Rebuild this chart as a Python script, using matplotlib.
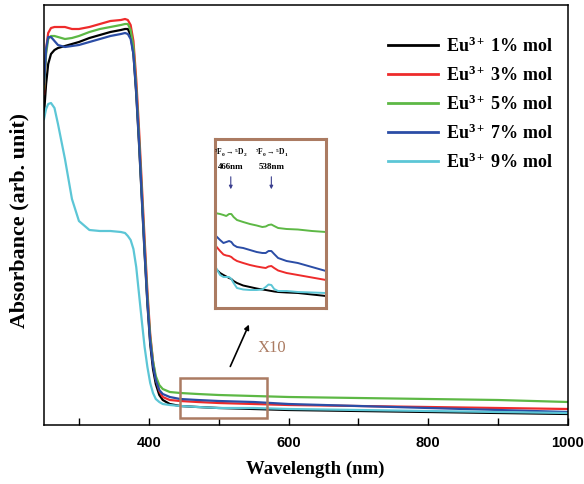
import matplotlib
matplotlib.use("Agg")
import matplotlib.pyplot as plt
from matplotlib.patches import Rectangle
from matplotlib.ticker import MultipleLocator

plt.rcParams['font.family'] = ['Liberation Serif', 'DejaVu Serif']
plt.rcParams['mathtext.fontset'] = 'custom'
plt.rcParams['mathtext.rm'] = 'Liberation Serif:bold'
plt.rcParams['mathtext.bf'] = 'Liberation Serif:bold'
plt.rcParams['mathtext.it'] = 'Liberation Serif:bold'

# ---------------- main spectra ----------------
wavelength = [250, 253, 256, 260, 265, 270, 280, 290, 300, 315, 330, 345, 360, 366, 370, 374,
              378, 382, 386, 390, 394, 398, 402, 406, 410, 415, 420, 430, 445, 470, 500, 550,
              600, 700, 800, 900, 1000]
abs_1 = [311, 341, 361, 371, 375, 377, 379, 381, 383, 387, 390, 393, 395, 396, 396, 390,
         371, 331, 281, 226, 171, 121, 81, 56, 41, 30, 25, 21, 19, 18, 17, 16, 15, 14, 13, 12, 11]
abs_3 = [331, 376, 392, 397, 398, 398, 398, 396, 396, 398, 401, 404, 405, 406, 405, 400,
         384, 346, 296, 241, 186, 134, 91, 64, 46, 34, 28, 25, 24, 23, 22, 21, 20, 19, 18, 17, 16]
abs_5 = [336, 371, 386, 389, 389, 388, 386, 387, 389, 393, 396, 398, 400, 401, 401, 395,
         378, 338, 288, 233, 178, 128, 88, 64, 49, 40, 36, 33, 32, 31, 30, 29, 28, 27, 26, 25, 23]
abs_7 = [341, 376, 388, 388, 384, 380, 378, 379, 380, 383, 386, 389, 391, 392, 391, 386,
         371, 334, 284, 229, 174, 124, 84, 60, 45, 35, 31, 28, 26, 25, 24, 23, 21, 19, 17, 15, 13]
abs_9 = [306, 316, 321, 322, 317, 301, 266, 226, 204, 195, 194, 194, 193, 192, 189, 185,
         176, 158, 131, 104, 78, 58, 42, 32, 26, 23, 21, 20, 19, 18, 17, 17, 16, 15, 14, 13, 12]

labels = [r'Eu$^{3+}$ 1% mol', r'Eu$^{3+}$ 3% mol', r'Eu$^{3+}$ 5% mol',
          r'Eu$^{3+}$ 7% mol', r'Eu$^{3+}$ 9% mol']
colors = ['#000000', '#ee2b2b', '#5db845', '#2b4da6', '#5cc6d6']

# ---------------- inset (x10) ----------------
inset_wl = [438, 447, 453, 458, 463, 467, 471, 477, 488, 500, 512, 522, 528, 533, 538, 543,
            550, 565, 585, 610, 635]
inset_1 = [40, 35, 33, 31.5, 30, 29, 27, 25, 22.5, 21, 19.5, 18.5, 18, 17.5, 17, 16.5, 16, 15.5, 15, 13.5, 12]
inset_3 = [63, 57, 53.5, 52.5, 52, 51, 49, 47, 45, 43, 41.5, 40.5, 40, 41.5, 42, 40, 37.5, 35, 33, 30.5, 28]
inset_5 = [95, 94, 93, 92, 94, 94, 91, 88, 86, 84, 82.5, 81, 81.5, 83, 83.5, 82, 80, 79, 78.5, 77, 76]
inset_7 = [73, 68, 65, 66, 67, 66, 63, 61, 60, 58, 56, 55, 55, 57, 57, 54, 50, 47, 45, 41, 37]
inset_9 = [42, 33, 31, 31, 31, 29, 25, 20, 18.5, 18, 18, 18.5, 21, 23.5, 23, 19, 17, 17, 16, 15.5, 15]
transitions = [r'$^7$F$_0$$\rightarrow$$^5$D$_2$', r'$^7$F$_0$$\rightarrow$$^5$D$_1$']
transition_wl = [466, 538]
transition_txt = ['466nm', '538nm']

box_color = '#ab7b62'

W, H = 584, 485
fig = plt.figure(figsize=(W / 100, H / 100), dpi=100)
ax = fig.add_axes([44 / W, (H - 426) / H, (568 - 44) / W, (426 - 6) / H])

for ys, c, lab in zip([abs_1, abs_3, abs_5, abs_7, abs_9], colors, labels):
    ax.plot(wavelength, ys, color=c, lw=1.6, label=lab)

ax.set_xlim(250, 1000)
ax.set_ylim(0, 420)
ax.xaxis.set_minor_locator(MultipleLocator(100))
ax.set_xticks([400, 600, 800, 1000])
ax.set_yticks([])
ax.tick_params(axis='x', which='both', direction='in', length=5, width=1.0, pad=7)
for lbl in ax.get_xticklabels():
    lbl.set_fontfamily('Liberation Sans')
    lbl.set_fontweight('bold')
    lbl.set_fontsize(10.5)
for s in ax.spines.values():
    s.set_linewidth(1.1)

ax.set_xlabel('Wavelength (nm)', fontsize=13.5, fontweight='bold')
ax.xaxis.set_label_coords(0.518, -0.083)
ax.set_ylabel('Absorbance (arb. unit)', fontsize=15.8, fontweight='bold')
ax.yaxis.set_label_coords(-0.027, 0.49)

leg = ax.legend(loc='upper left', bbox_to_anchor=(0.625, 0.965), frameon=False,
                handlelength=2.8, handletextpad=0.45, labelspacing=0.53,
                prop={'family': 'Liberation Serif', 'weight': 'bold', 'size': 13})
for line in leg.get_lines():
    line.set_linewidth(2.0)

# rectangle on main axes
ax.add_patch(Rectangle((445, 7), 124, 40, fill=False, edgecolor=box_color, lw=1.8, zorder=5))
ax.annotate('', xy=(545, 103), xytext=(515, 56),
            arrowprops=dict(arrowstyle='-|>', color='black', lw=1.2, mutation_scale=7))
ax.text(556, 78, 'X10', color=box_color, fontsize=12, ha='left', va='center')

# inset
iax = fig.add_axes([215 / W, (H - 309) / H, (326 - 215) / W, (309 - 140) / H])
for ys, c in zip([inset_1, inset_3, inset_5, inset_7, inset_9], colors):
    iax.plot(inset_wl, ys, color=c, lw=1.4)
iax.set_xlim(438, 635)
iax.set_ylim(0, 169)
iax.set_xticks([])
iax.set_yticks([])
for s in iax.spines.values():
    s.set_edgecolor(box_color)
    s.set_linewidth(2.2)
for t, x0, nm in zip(transitions, transition_wl, transition_txt):
    iax.text(x0, 156, t, fontsize=5.5, fontweight='bold', ha='center', va='center')
    iax.text(x0, 142, nm, fontsize=6.5, fontweight='bold', ha='center', va='center')
    iax.annotate('', xy=(x0, 116), xytext=(x0, 134),
                 arrowprops=dict(arrowstyle='-|>', color='#3b3f8f', lw=0.8, mutation_scale=5))

fig.savefig('out.png', dpi=100)
